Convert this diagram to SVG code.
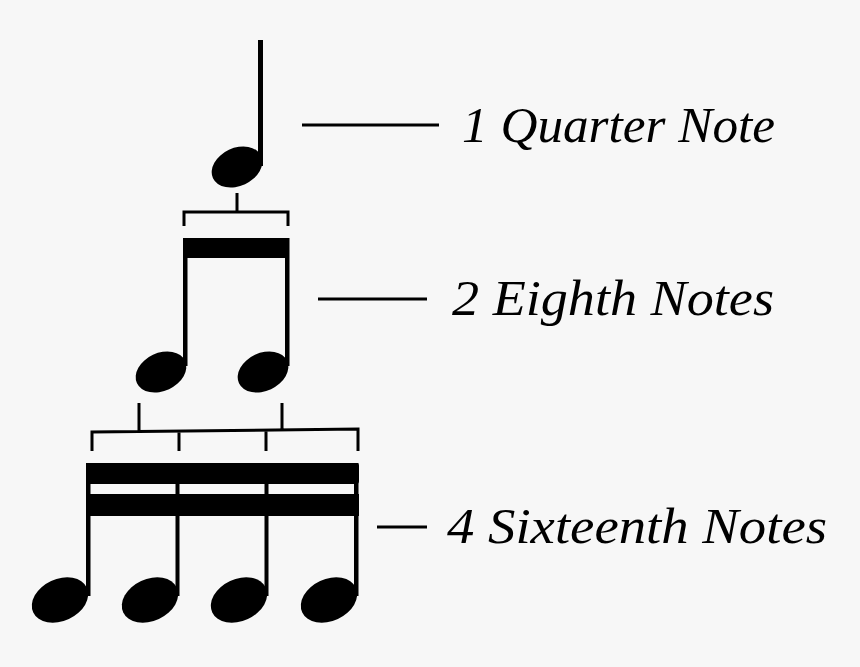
<svg xmlns="http://www.w3.org/2000/svg" width="860" height="667" viewBox="0 0 860 667">
<style>
.bg{fill:#f7f7f7}
.ink{fill:#000}
.ln{stroke:#000;stroke-width:3;fill:none;stroke-linecap:butt}
.br{stroke:#000;stroke-width:3;fill:none}
.lbl{font-family:"Liberation Serif","DejaVu Serif",serif;font-style:italic;font-size:50px;fill:#000}
</style>
<defs>
<ellipse id="headS" cx="0" cy="0" rx="26.5" ry="19" transform="rotate(-25)"/>
<ellipse id="headL" cx="0" cy="0" rx="29.5" ry="21" transform="rotate(-25)"/>
</defs>
<rect class="bg" x="0" y="0" width="860" height="667"/>

<g id="quarter-note">
<rect class="ink" x="258" y="40" width="5" height="126"/>
<use href="#headS" x="237" y="167"/>
</g>

<g id="eighth-notes">
<rect class="ink" x="183" y="238" width="106" height="20"/>
<rect class="ink" x="183" y="238" width="4.5" height="128"/>
<rect class="ink" x="285" y="238" width="4.5" height="128"/>
<use href="#headS" x="161" y="372"/>
<use href="#headS" x="263" y="372"/>
</g>

<g id="sixteenth-notes">
<rect class="ink" x="86" y="463" width="273" height="21" rx="3"/>
<rect class="ink" x="86" y="494" width="273" height="22"/>
<rect class="ink" x="86" y="463" width="4.5" height="133"/>
<rect class="ink" x="175.5" y="463" width="4" height="133"/>
<rect class="ink" x="264.5" y="463" width="4" height="133"/>
<rect class="ink" x="354" y="463" width="4.5" height="133"/>
<use href="#headL" x="60" y="600"/>
<use href="#headL" x="150" y="600"/>
<use href="#headL" x="239" y="600"/>
<use href="#headL" x="329" y="600"/>
</g>

<g id="connectors">
<path class="br" d="M237,193 V212 M184,226 V212 H288 V226"/>
<path class="br" d="M139,403 V431 M282,403 V430 M92,451 V432 L358,429 V451 M179,451 V431 M266,451 V430"/>
<line class="ln" x1="302" y1="125" x2="439" y2="125"/>
<line class="ln" x1="318" y1="299" x2="427" y2="299"/>
<line class="ln" x1="377" y1="527" x2="427" y2="527"/>
</g>

<g id="labels">
<text class="lbl" x="462" y="142" textLength="313" lengthAdjust="spacingAndGlyphs">1 Quarter Note</text>
<text class="lbl" x="452" y="315" textLength="322" lengthAdjust="spacingAndGlyphs">2 Eighth Notes</text>
<text class="lbl" x="447" y="543" textLength="380" lengthAdjust="spacingAndGlyphs">4 Sixteenth Notes</text>
</g>
</svg>
